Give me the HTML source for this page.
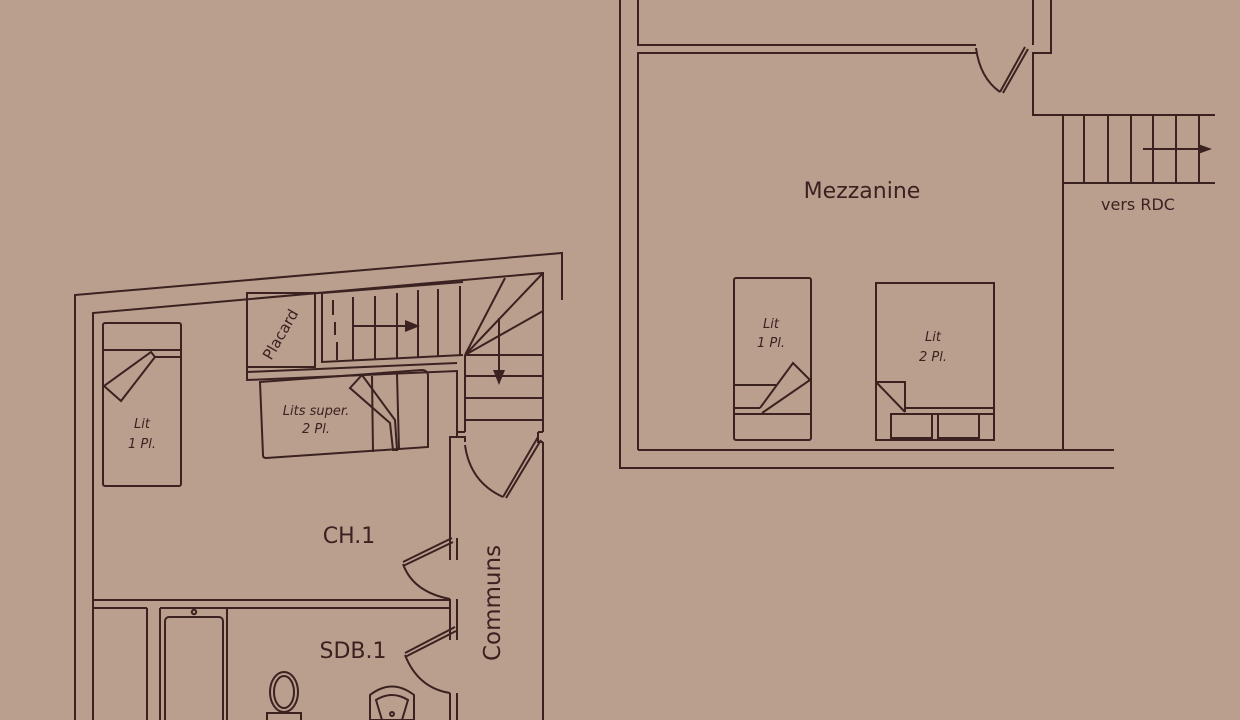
<!DOCTYPE html>
<html><head><meta charset="utf-8"><style>
html,body{margin:0;padding:0;background:#ba9f8f;}
svg{display:block}
text{font-family:"DejaVu Sans","Liberation Sans",sans-serif;fill:#3b2220}
.it{font-style:italic;font-size:13px}
</style></head><body>
<svg width="1240" height="720" viewBox="0 0 1240 720" xmlns="http://www.w3.org/2000/svg">
<rect width="1240" height="720" fill="#ba9f8f"/>
<g fill="none" stroke="#3b2220" stroke-width="2">
<!-- Mezzanine -->
<path d="M620 0V468H1114"/>
<path d="M638 0V45H976"/>
<path d="M638 450V53H976"/>
<path d="M638 450H1114"/>
<path d="M1033 0V45M1051 0V53H1033V115H1215"/>
<path d="M1063 115V450"/>
<path d="M976 48Q980 78 1000 92"/>
<path d="M1000 92L1025 47M1003 93L1028 49"/>
<path d="M1063 183H1215"/>
<path d="M1084 115V183M1108 115V183M1131 115V183M1153 115V183M1176 115V183M1199 115V183"/>
<path d="M1143 149H1200"/>
<rect x="734" y="278" width="77" height="162" rx="2"/>
<path d="M734 385H776M734 408H760M734 414H811"/>
<path d="M760 408L793 363L810 380L762 413"/>
<rect x="876" y="283" width="118" height="157"/>
<path d="M876 382H905V412M876 382L905 412M905 408H994M905 414H994"/>
<rect x="891" y="414" width="41" height="24"/>
<rect x="938" y="414" width="41" height="24"/>
<!-- CH.1 outer -->
<path d="M75 720V295L562 253V300"/>
<path d="M93 720V313L543 273V432"/>
<path d="M543 442V720"/>
<path d="M538 432H543M538 432V442H543"/>
<!-- placard -->
<rect x="247" y="293" width="68" height="74"/>
<path d="M247 367V380L457 371V437H450V538M247 372L457 363"/>
<!-- stair -->
<path d="M322 293V362L463 355M322 293L463 282"/>
<path d="M333 300V315M335 322V335M337 342V360" />
<path d="M353 297V360M375 296V360M397 293V359M418 290V358M438 289V357M460 286V356"/>
<path d="M352 326H405"/>
<path d="M465 355L543 273M465 355L505 278M465 355L543 311"/>
<path d="M465 355V432M465 355H543M465 376H543M465 398H543M465 420H543"/>
<path d="M499 318V375"/>
<path d="M458 437H465V442M465 432H458"/>
<path d="M465 445Q470 482 503 497"/>
<path d="M503 497L538 437M506 498L541 440"/>
<!-- bunk bed -->
<path d="M260 382L422 370Q427 370 428 375L428 447L266 458Q263 458 263 455Z"/>
<path d="M372 376L373 452M397 374L399 450"/>
<path d="M350 388L362 375L395 420L397 450L393 450L390 423Z"/>
<!-- left bed -->
<rect x="103" y="323" width="78" height="163" rx="2"/>
<path d="M103 350H181M155 357H181"/>
<path d="M104 386L151 352L155 357L121 401Z"/>
<!-- CH1/SDB wall -->
<path d="M93 600H450M93 608H147M160 608H450"/>
<path d="M450 538V560M457 538V560"/>
<path d="M403 562L452 538M403 566L453 542"/>
<path d="M403 564Q413 592 450 599"/>
<path d="M450 599V640M457 599V640"/>
<path d="M405 653L455 627M405 657L456 631"/>
<path d="M405 655Q418 688 450 693"/>
<path d="M450 693V720M457 693V720"/>
<!-- SDB -->
<path d="M147 608V720M160 608V720M160 608H227V720"/>
<rect x="165" y="617" width="58" height="110" rx="4"/>
<circle cx="194" cy="612" r="2.2"/>
<ellipse cx="284" cy="692" rx="14" ry="20"/>
<ellipse cx="284" cy="692" rx="10" ry="16"/>
<rect x="267" y="713" width="34" height="10"/>
<path d="M370 695Q392 678 414 695V720H370Z"/>
<path d="M376 700Q392 690 408 700L402 720H382Z"/>
<circle cx="392" cy="714" r="2"/>
</g>
<polygon points="1212,149 1198,144 1198,154" fill="#3b2220"/>
<polygon points="420,326 405,320 405,332" fill="#3b2220"/>
<polygon points="499,385 493,370 505,370" fill="#3b2220"/>
<text x="862" y="198" font-size="22" text-anchor="middle">Mezzanine</text>
<text x="1138" y="210" font-size="16" text-anchor="middle">vers RDC</text>
<text x="771" y="328" class="it" text-anchor="middle">Lit</text>
<text x="771" y="347" class="it" text-anchor="middle">1 Pl.</text>
<text x="933" y="341" class="it" text-anchor="middle">Lit</text>
<text x="933" y="361" class="it" text-anchor="middle">2 Pl.</text>
<text x="142" y="428" class="it" text-anchor="middle">Lit</text>
<text x="142" y="448" class="it" text-anchor="middle">1 Pl.</text>
<text x="316" y="415" class="it" text-anchor="middle">Lits super.</text>
<text x="316" y="433" class="it" text-anchor="middle">2 Pl.</text>
<text transform="translate(285,337) rotate(-60)" font-size="15" text-anchor="middle">Placard</text>
<text x="349" y="543" font-size="22" text-anchor="middle">CH.1</text>
<text x="353" y="658" font-size="22" text-anchor="middle">SDB.1</text>
<text transform="translate(500,603) rotate(-90)" font-size="23" text-anchor="middle">Communs</text>
</svg>
</body></html>
